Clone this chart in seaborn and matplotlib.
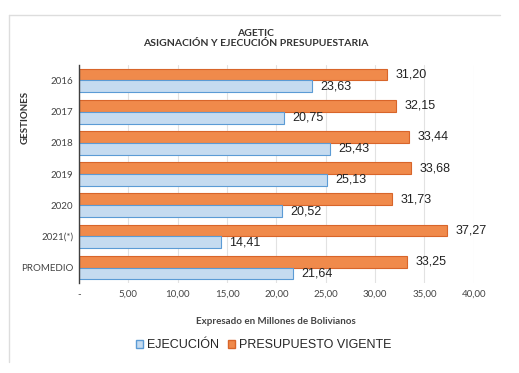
import matplotlib
matplotlib.use("Agg")
import matplotlib.pyplot as plt
import matplotlib.patches as mpatches
from matplotlib.lines import Line2D
import pandas as pd
import seaborn as sns

gestiones = ["2016", "2017", "2018", "2019", "2020", "2021(*)", "PROMEDIO"]
presupuesto = [31.20, 32.15, 33.44, 33.68, 31.73, 37.27, 33.25]
ejecucion = [23.63, 20.75, 25.43, 25.13, 20.52, 14.41, 21.64]
x_ticks = [0, 5, 10, 15, 20, 25, 30, 35, 40]
x_labels = ["-", "5,00", "10,00", "15,00", "20,00", "25,00", "30,00", "35,00", "40,00"]

serie_p = "PRESUPUESTO VIGENTE"
serie_e = "EJECUCIÓN"

df = pd.DataFrame({
    "gestion": gestiones * 2,
    "valor": presupuesto + ejecucion,
    "serie": [serie_p] * len(gestiones) + [serie_e] * len(gestiones),
})

sns.set_theme(style="white")
plt.rcParams["font.family"] = ["Lato", "DejaVu Sans"]

fig = plt.figure(figsize=(5.19, 3.73), dpi=100)
ax = fig.add_axes([0.152, 0.241, 0.761, 0.585])

naranja = "#F08A4B"
azul = "#C5DBF0"
borde_n = "#D8652A"
borde_a = "#5B9BD5"
sns.barplot(data=df, y="gestion", x="valor", hue="serie", orient="h",
            order=gestiones, hue_order=[serie_p, serie_e],
            palette=[naranja, azul], saturation=1, width=0.76, ax=ax, legend=False)

bordes = {serie_p: borde_n, serie_e: borde_a}
for cont, serie in zip(ax.containers, [serie_p, serie_e]):
    for bar in cont:
        bar.set_edgecolor(bordes[serie])
        bar.set_linewidth(0.8)
    ax.bar_label(cont, labels=[f"{b.get_width():.2f}".replace(".", ",") for b in cont],
                 padding=6, fontsize=9, color="#222222", family="Liberation Sans")

ax.set_xlim(0, 40)
ax.set_xticks(x_ticks)
ax.set_xticklabels(x_labels, fontsize=7, color="#444444")
ax.tick_params(axis="y", labelsize=7, labelcolor="#444444", length=0, pad=4)
ax.tick_params(axis="x", length=0, pad=5)
ax.xaxis.grid(True, color="#E2E2E2", linewidth=0.8)
ax.set_axisbelow(True)
for s in ["top", "right", "bottom"]:
    ax.spines[s].set_visible(False)
ax.spines["left"].set_color("#404040")
ax.spines["left"].set_linewidth(1.0)

ax.set_xlabel("Expresado en Millones de Bolivianos", fontsize=7, fontweight="bold",
              color="#444444", labelpad=13)
ax.set_ylabel("GESTIONES", fontsize=7, fontweight="bold", color="#333333")
ax.yaxis.set_label_coords(-0.125, 0.76)

fig.text(0.493, 0.898, "AGETIC\nASIGNACIÓN Y EJECUCIÓN PRESUPUESTARIA", ha="center", va="center",
         fontsize=7.5, fontweight="bold", color="#333333", linespacing=1.15)

handles = [mpatches.Patch(facecolor=azul, edgecolor=borde_a, label=serie_e),
           mpatches.Patch(facecolor=naranja, edgecolor=borde_n, label=serie_p)]
fig.legend(handles=handles, loc="center", bbox_to_anchor=(0.508, 0.075), ncol=2,
           frameon=False, prop={"family": "Liberation Sans", "size": 9},
           handlelength=0.6, handleheight=0.6, handletextpad=0.3, columnspacing=0.7)

# marco gris del informe
fig.add_artist(Line2D([9 / 519, 500 / 519], [1 - 15 / 373, 1 - 15 / 373], color="#DDDDDD", lw=1))
fig.add_artist(Line2D([9 / 519, 9 / 519], [1 - 15 / 373, 1 - 362 / 373], color="#DDDDDD", lw=1))

fig.savefig("out.png", dpi=100)
